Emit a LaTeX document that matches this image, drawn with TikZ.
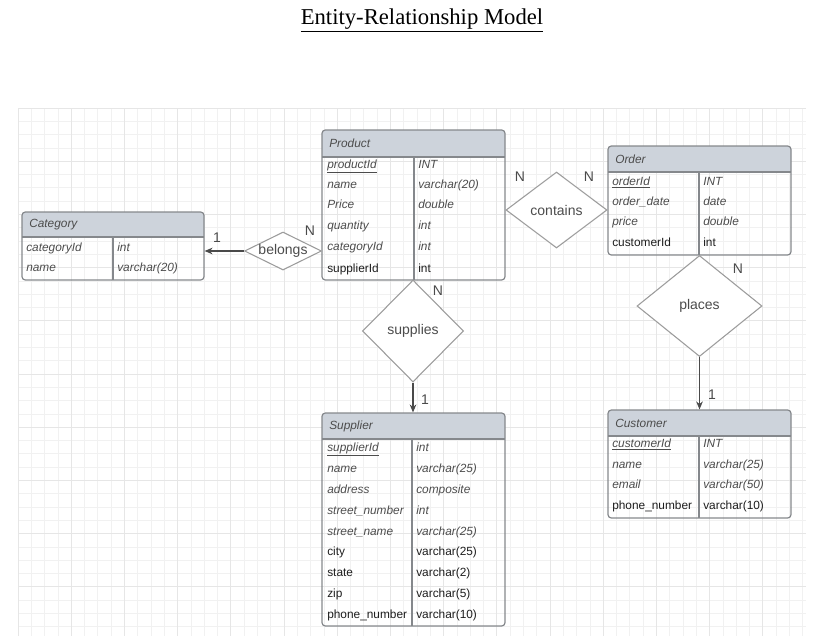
\documentclass[tikz,border=0pt]{standalone}
\usepackage{fontspec}
\setmainfont{Liberation Sans}
\newfontfamily\titleserif{Liberation Serif}
\usetikzlibrary{fit,shapes.geometric,arrows.meta}
\definecolor{hdrfill}{HTML}{CDD3DB}
\definecolor{tblline}{HTML}{85888C}
\definecolor{txtgray}{HTML}{4C4C4C}
\definecolor{txtdark}{HTML}{1E1E1E}
\definecolor{gridminor}{HTML}{F1F1F1}
\definecolor{gridmajor}{HTML}{E6E6E6}
\definecolor{dmdline}{HTML}{9C9C9C}
\definecolor{arrline}{HTML}{4A4A4A}
\tikzset{
  ri/.style={anchor=west, inner sep=0pt, text height=6.6pt, text depth=2pt, font=\fontsize{8.9}{10}\selectfont\itshape, text=txtgray},
  rb/.style={anchor=west, inner sep=0pt, text height=6.6pt, text depth=2pt, font=\fontsize{8.9}{10}\selectfont, text=txtdark},
  hdrtext/.style={inner sep=0pt, font=\fontsize{8.9}{10}\selectfont\itshape, text=txtgray},
  relshape/.style={diamond, draw=dmdline, fill=white, line width=0.8pt, inner sep=0pt},
  reltext/.style={inner sep=0pt, font=\fontsize{10.5}{12}\selectfont, text=txtgray},
  cardlbl/.style={inner sep=0pt, font=\fontsize{10.5}{12}\selectfont, text=arrline},
  conn/.style={draw=arrline, line width=0.8pt, -{Stealth[length=6pt,width=5pt]}},
  titlef/.style={inner sep=0pt, font=\titleserif\fontsize{17}{20}\selectfont, text=black}
}
\newcommand\ertbl[8]{%
  \fill[hdrfill] (#2,#6) [rounded corners=2.5pt] -- (#2,#3) -- (#4,#3) [sharp corners] -- (#4,#6) -- cycle;
  \node[fit={(#2,#3) (#4,#5)}, inner sep=0pt, draw=tblline, line width=0.9pt, rounded corners=2.5pt] (#1) {};
  \draw[tblline, line width=0.8pt] (#2,#6) -- (#4,#6) (#7,#6) -- (#7,#5);
  \node[hdrtext, anchor=west] (#1-t) at ({#2+7},{(#3+#6)/2}) {#8};
}
\newcommand\errow[7]{%
  \node[#2] (#1a) at (#3,#5) {#6};
  \node[#2] (#1b) at (#4,#5) {#7};
}
\begin{document}
\begin{tikzpicture}[x=0.75pt,y=-0.75pt]
\useasboundingbox (0,0) rectangle (820,643);
% grid background
\foreach \i in {0,...,59} {
  \pgfmathsetmacro{\gx}{18+13.3*\i}
  \ifnum\i=0 \else\ifdim\gx pt<806pt
    \draw[gridminor, line width=0.6pt] (\gx,108) -- (\gx,636);
  \fi\fi
}
\foreach \j in {1,...,39} {
  \pgfmathsetmacro{\gy}{108+13.3*\j}
  \ifdim\gy pt<636pt
    \draw[gridminor, line width=0.6pt] (18,\gy) -- (806,\gy);
  \fi
}
\foreach \i in {0,...,14} {
  \pgfmathsetmacro{\gx}{18+53.2*\i}
  \ifdim\gx pt<806pt \draw[gridmajor, line width=0.6pt] (\gx,108) -- (\gx,636); \fi
}
\foreach \j in {0,...,9} {
  \pgfmathsetmacro{\gy}{108+53.2*\j}
  \ifdim\gy pt<636pt \draw[gridmajor, line width=0.6pt] (18,\gy) -- (806,\gy); \fi
}

% title
\node[titlef] (title) at (422,20.5) {\underline{Entity-Relationship Model}};

% Category
\ertbl{category}{22}{212}{204}{280}{237}{113}{Category}
\errow{c1}{ri}{26}{117}{248}{categoryId}{int}
\errow{c2}{ri}{26}{117}{268}{name}{varchar(20)}

% Product
\ertbl{product}{322}{130}{505}{280}{157}{414}{Product}
\errow{p1}{ri}{327}{418}{165}{\underline{productId}}{INT}
\errow{p2}{ri}{327}{418}{185}{name}{varchar(20)}
\errow{p3}{ri}{327}{418}{205}{Price}{double}
\errow{p4}{ri}{327}{418}{226}{quantity}{int}
\errow{p5}{ri}{327}{418}{247}{categoryId}{int}
\errow{p6}{rb}{327}{418}{269}{supplierId}{int}

% Order
\ertbl{order}{608}{146}{791}{255}{172}{699}{Order}
\errow{o1}{ri}{612}{703}{182}{\underline{orderId}}{INT}
\errow{o2}{ri}{612}{703}{202}{order\_date}{date}
\errow{o3}{ri}{612}{703}{222}{price}{double}
\errow{o4}{rb}{612}{703}{243}{customerId}{int}

% Supplier
\ertbl{supplier}{322}{413}{505}{626}{439}{412}{Supplier}
\errow{s1}{ri}{327}{416}{448}{\underline{supplierId}}{int}
\errow{s2}{ri}{327}{416}{469}{name}{varchar(25)}
\errow{s3}{ri}{327}{416}{490}{address}{composite}
\errow{s4}{ri}{327}{416}{511}{street\_number}{int}
\errow{s5}{ri}{327}{416}{532}{street\_name}{varchar(25)}
\errow{s6}{rb}{327}{416}{552}{city}{varchar(25)}
\errow{s7}{rb}{327}{416}{573}{state}{varchar(2)}
\errow{s8}{rb}{327}{416}{594}{zip}{varchar(5)}
\errow{s9}{rb}{327}{416}{615}{phone\_number}{varchar(10)}

% Customer
\ertbl{customer}{608}{410}{791}{518}{436}{699}{Customer}
\errow{u1}{ri}{612}{703}{444}{\underline{customerId}}{INT}
\errow{u2}{ri}{612}{703}{465}{name}{varchar(25)}
\errow{u3}{ri}{612}{703}{485}{email}{varchar(50)}
\errow{u4}{rb}{612}{703}{506}{phone\_number}{varchar(10)}

% relationships
\node[relshape, minimum width=57.75pt, minimum height=28.5pt] (belongs) at (283,251) {};
\node[reltext] (belongs-t) at (belongs) {belongs};
\node[relshape, minimum width=75.75pt, minimum height=76.5pt] (supplies) at (413,331) {};
\node[reltext] (supplies-t) at (supplies) {supplies};
\node[relshape, minimum width=75.75pt, minimum height=57pt] (contains) at (556.5,210) {};
\node[reltext] (contains-t) at (contains) {contains};
\node[relshape, minimum width=93.75pt, minimum height=75.75pt] (places) at (699.5,306) {};
\node[reltext] (places-t) at (places) {places};

% connectors
\draw[conn] (belongs.west) -- (belongs.west -| category.east);
\draw[conn] (supplies.south) -- (supplies.south |- supplier.north);
\draw[conn] (places.south) -- (places.south |- customer.north);

% cardinalities
\node[cardlbl] (k1) at (217,238) {1};
\node[cardlbl] (k2) at (310,231) {N};
\node[cardlbl] (k3) at (438,291) {N};
\node[cardlbl] (k4) at (425,400) {1};
\node[cardlbl] (k5) at (520,177) {N};
\node[cardlbl] (k6) at (589,177) {N};
\node[cardlbl] (k7) at (738,269) {N};
\node[cardlbl] (k8) at (712,395) {1};
\end{tikzpicture}
\end{document}
